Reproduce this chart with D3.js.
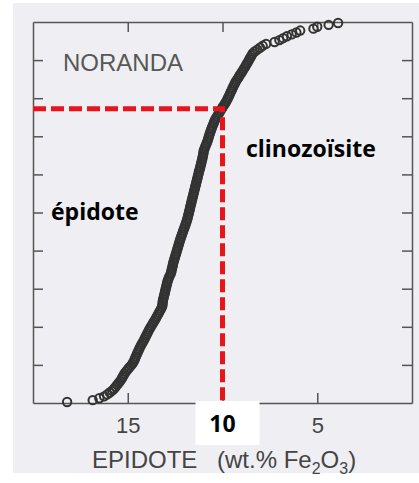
<!DOCTYPE html>
<html>
<head>
<meta charset="utf-8">
<script src="https://cdn.jsdelivr.net/npm/d3@7"></script>
<style>
  body { margin: 0; background: #fff; }
  svg { display: block; }
  .axis path, .axis line { stroke: #555; stroke-width: 1.5; }
  .axis text { font-family: "Liberation Sans", Arial, sans-serif; font-size: 22px; fill: #444; }
</style>
</head>
<body>
<svg id="chart" width="419" height="483"></svg>
<script>
// Fe2O3 (wt.%) of the epidote analyses, highest first
var fe2o3 = [
  18.20, 16.85, 16.50, 16.25, 16.08, 15.95, 15.82, 15.72, 15.64, 15.56,
  15.48, 15.40, 15.33, 15.28, 15.22, 15.17, 15.09, 15.01, 14.93, 14.84,
  14.76, 14.70, 14.65, 14.61, 14.57, 14.52, 14.48, 14.43, 14.39, 14.34,
  14.29, 14.23, 14.17, 14.12, 14.07, 14.02, 13.97, 13.92, 13.87, 13.81,
  13.75, 13.69, 13.63, 13.57, 13.51, 13.46, 13.40, 13.35, 13.29, 13.24,
  13.19, 13.17, 13.16, 13.15, 13.13, 13.10, 13.08, 13.05, 13.03, 13.01,
  12.98, 12.96, 12.93, 12.91, 12.88, 12.84, 12.80, 12.75, 12.71, 12.69,
  12.67, 12.64, 12.62, 12.60, 12.57, 12.54, 12.51, 12.48, 12.45, 12.42,
  12.39, 12.36, 12.33, 12.30, 12.27, 12.24, 12.21, 12.17, 12.14, 12.10,
  12.07, 12.03, 11.99, 11.96, 11.92, 11.89, 11.86, 11.83, 11.81, 11.78,
  11.76, 11.73, 11.71, 11.69, 11.66, 11.64, 11.61, 11.59, 11.56, 11.54,
  11.51, 11.49, 11.46, 11.44, 11.41, 11.39, 11.36, 11.34, 11.31, 11.29,
  11.26, 11.24, 11.21, 11.18, 11.16, 11.13, 11.11, 11.08, 11.06, 11.04,
  11.02, 11.00, 10.99, 10.95, 10.91, 10.87, 10.83, 10.79, 10.76, 10.73,
  10.70, 10.67, 10.63, 10.60, 10.56, 10.52, 10.48, 10.44, 10.40, 10.35,
  10.28, 10.22, 10.16, 10.10, 10.04, 9.98, 9.91, 9.85, 9.79, 9.74,
  9.69, 9.64, 9.60, 9.55, 9.50, 9.46, 9.41, 9.36, 9.31, 9.25,
  9.18, 9.12, 9.06, 8.99, 8.93, 8.87, 8.80, 8.75, 8.69, 8.63,
  8.58, 8.52, 8.46, 8.41, 8.30, 8.16, 8.02, 7.88, 7.70, 7.25,
  7.00, 6.80, 6.60, 6.35, 6.10, 5.90, 5.20, 5.00, 4.40, 3.90
];

var xTicks = [15, 10, 5];
var yTicks = [10, 20, 30, 40, 50, 60, 70, 80, 90];

// reference cut-off epidote / clinozoisite
var cutFe = 10;
var cutPct = 77.2;

var siteLabel = "NORANDA";
var leftLabel = "épidote";
var rightLabel = "clinozoïsite";

var svg = d3.select("#chart");

// scanned paper background
svg.append("rect")
    .attr("x", 13).attr("y", 3)
    .attr("width", 406).attr("height", 470)
    .attr("fill", "#efeff3");

var margin = {top: 22, right: 7, bottom: 80, left: 33},
    width = 419 - margin.left - margin.right,
    height = 483 - margin.top - margin.bottom;

var x = d3.scaleLinear().domain([20, 0]).range([0, width]),
    y = d3.scaleLinear().domain([0, 100]).range([height, 0]);

var g = svg.append("g")
    .attr("transform", "translate(" + margin.left + "," + margin.top + ")");

// frame with inward ticks
g.append("g")
    .attr("class", "axis axis--x")
    .attr("transform", "translate(0," + height + ")")
    .call(d3.axisBottom(x).tickValues(xTicks).tickSizeInner(-10).tickSizeOuter(0).tickPadding(14)
        .tickFormat(function(d){ return d === cutFe ? "" : d; }));

g.append("g")
    .attr("class", "axis axis--top")
    .call(d3.axisTop(x).tickValues(xTicks).tickSizeInner(-10).tickSizeOuter(0).tickFormat(""));

g.append("g")
    .attr("class", "axis axis--y")
    .call(d3.axisLeft(y).tickValues(yTicks).tickSizeInner(-10).tickSizeOuter(0).tickFormat(""));

g.append("g")
    .attr("class", "axis axis--right")
    .attr("transform", "translate(" + width + ",0)")
    .call(d3.axisRight(y).tickValues(yTicks).tickSizeInner(-10).tickSizeOuter(0).tickFormat(""));

// cumulative curve of open circles (rank -> cumulative %)
var n = fe2o3.length;
g.selectAll(".pt")
    .data(fe2o3)
  .enter().append("circle")
    .attr("class", "pt")
    .attr("cx", function(d){ return x(d); })
    .attr("cy", function(d, i){ return y((i + 0.5) / n * 100); })
    .attr("r", 4.2)
    .attr("fill", "none")
    .attr("stroke", "#333")
    .attr("stroke-width", 2);

g.append("text")
    .attr("x", 30).attr("y", 49)
    .attr("font-family", "Liberation Sans, Arial, sans-serif")
    .attr("font-size", 24)
    .attr("fill", "#575757")
    .text(siteLabel);

// red cut-off lines
g.append("path")
    .attr("d", "M" + x(20) + "," + y(cutPct) + "H" + x(cutFe) + "V" + y(0))
    .attr("fill", "none")
    .attr("stroke", "#e8141c")
    .attr("stroke-width", 5)
    .attr("stroke-dasharray", "13,5");

// white box with the 10 label
g.append("rect")
    .attr("x", x(cutFe) - 27).attr("y", height - 2)
    .attr("width", 64).attr("height", 44)
    .attr("fill", "#fff");

var boldFont = "Open Sans, Noto Sans, sans-serif";

g.append("text")
    .attr("x", x(cutFe)).attr("y", height + 29)
    .attr("text-anchor", "middle")
    .attr("font-family", boldFont).attr("font-weight", "bold")
    .attr("font-size", 23).attr("fill", "#000")
    .text(cutFe);

g.append("text")
    .attr("x", 18).attr("y", 198)
    .attr("font-family", boldFont).attr("font-weight", "bold")
    .attr("font-size", 23).attr("fill", "#000")
    .text(leftLabel);

g.append("text")
    .attr("x", 213).attr("y", 135)
    .attr("font-family", boldFont).attr("font-weight", "bold")
    .attr("font-size", 23).attr("fill", "#000")
    .text(rightLabel);

// axis title
var title = svg.append("text")
    .attr("y", 468)
    .attr("font-family", "Liberation Sans, Arial, sans-serif")
    .attr("font-size", 24)
    .attr("fill", "#444");
title.append("tspan").attr("x", 92).text("EPIDOTE");
title.append("tspan").attr("x", 217).text("(wt.% Fe");
title.append("tspan").attr("font-size", 16).attr("dy", 6).text("2");
title.append("tspan").attr("dy", -6).text("O");
title.append("tspan").attr("font-size", 16).attr("dy", 6).text("3");
title.append("tspan").attr("dy", -6).text(")");
</script>
</body>
</html>
